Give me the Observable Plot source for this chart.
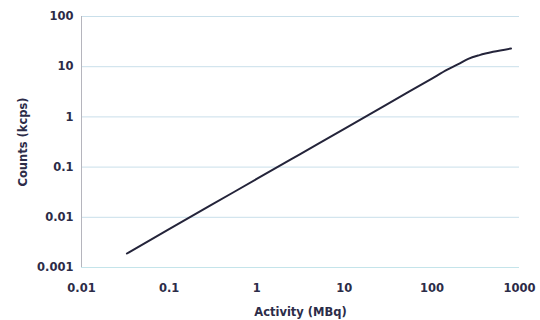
<!DOCTYPE html>
<html>
<head>
<meta charset="utf-8">
<script src="https://cdn.jsdelivr.net/npm/d3@7"></script>
<script src="https://cdn.jsdelivr.net/npm/@observablehq/plot@0.6"></script>
<style>
  html, body { margin: 0; padding: 0; background: #fff; }
  #chart svg { display: block; }
</style>
</head>
<body>
<div id="chart"></div>
<script>
// Data
const activity = [0.033, 0.1, 0.3, 1, 3, 10, 30, 100, 150, 200, 260, 350, 500, 800];
const counts   = [0.0019, 0.0058, 0.0174, 0.058, 0.174, 0.58, 1.74, 5.8, 8.7, 11.2, 14.3, 17.0, 19.8, 23.0];
const xTicks = [0.01, 0.1, 1, 10, 100, 1000];
const yTicks = [0.001, 0.01, 0.1, 1, 10, 100];

const data = activity.map((a, i) => ({activity: a, counts: counts[i]}));
const textColor = "#2c2c48";
const fontFamily = "'DejaVu Sans', sans-serif";

const chart = Plot.plot({
  width: 540,
  height: 320,
  marginLeft: 81,
  marginRight: 21,
  marginTop: 16,
  marginBottom: 53,
  style: {fontFamily, fontSize: "11.5px", color: textColor, background: "#fff"},
  x: {type: "log", domain: [0.01, 1000]},
  y: {type: "log", domain: [0.001, 100]},
  marks: [
    Plot.gridY(yTicks.filter(d => d > 0.001), {stroke: "#c9dfea", strokeOpacity: 1, strokeWidth: 1}),
    Plot.ruleY([0.001], {stroke: "#c4e4ea", strokeWidth: 1}),
    Plot.ruleX([0.01], {stroke: "#b5b5bd", strokeWidth: 1}),
    Plot.axisY({
      ticks: yTicks,
      tickFormat: d => String(d),
      tickSize: 0,
      tickPadding: 8,
      fill: textColor,
      fontWeight: "bold",
      label: "Counts (kcps)",
      labelAnchor: "center",
      labelOffset: 63,
      labelArrow: false
    }),
    Plot.axisX({
      ticks: xTicks,
      tickFormat: d => String(d),
      tickSize: 0,
      tickPadding: 16,
      fill: textColor,
      fontWeight: "bold",
      label: "Activity (MBq)",
      labelAnchor: "center",
      labelOffset: 48,
      labelArrow: false
    }),
    Plot.line(data, {x: "activity", y: "counts", stroke: "#24243a", strokeWidth: 2, curve: "monotone-x"})
  ]
});
document.getElementById("chart").appendChild(chart);
</script>
</body>
</html>
